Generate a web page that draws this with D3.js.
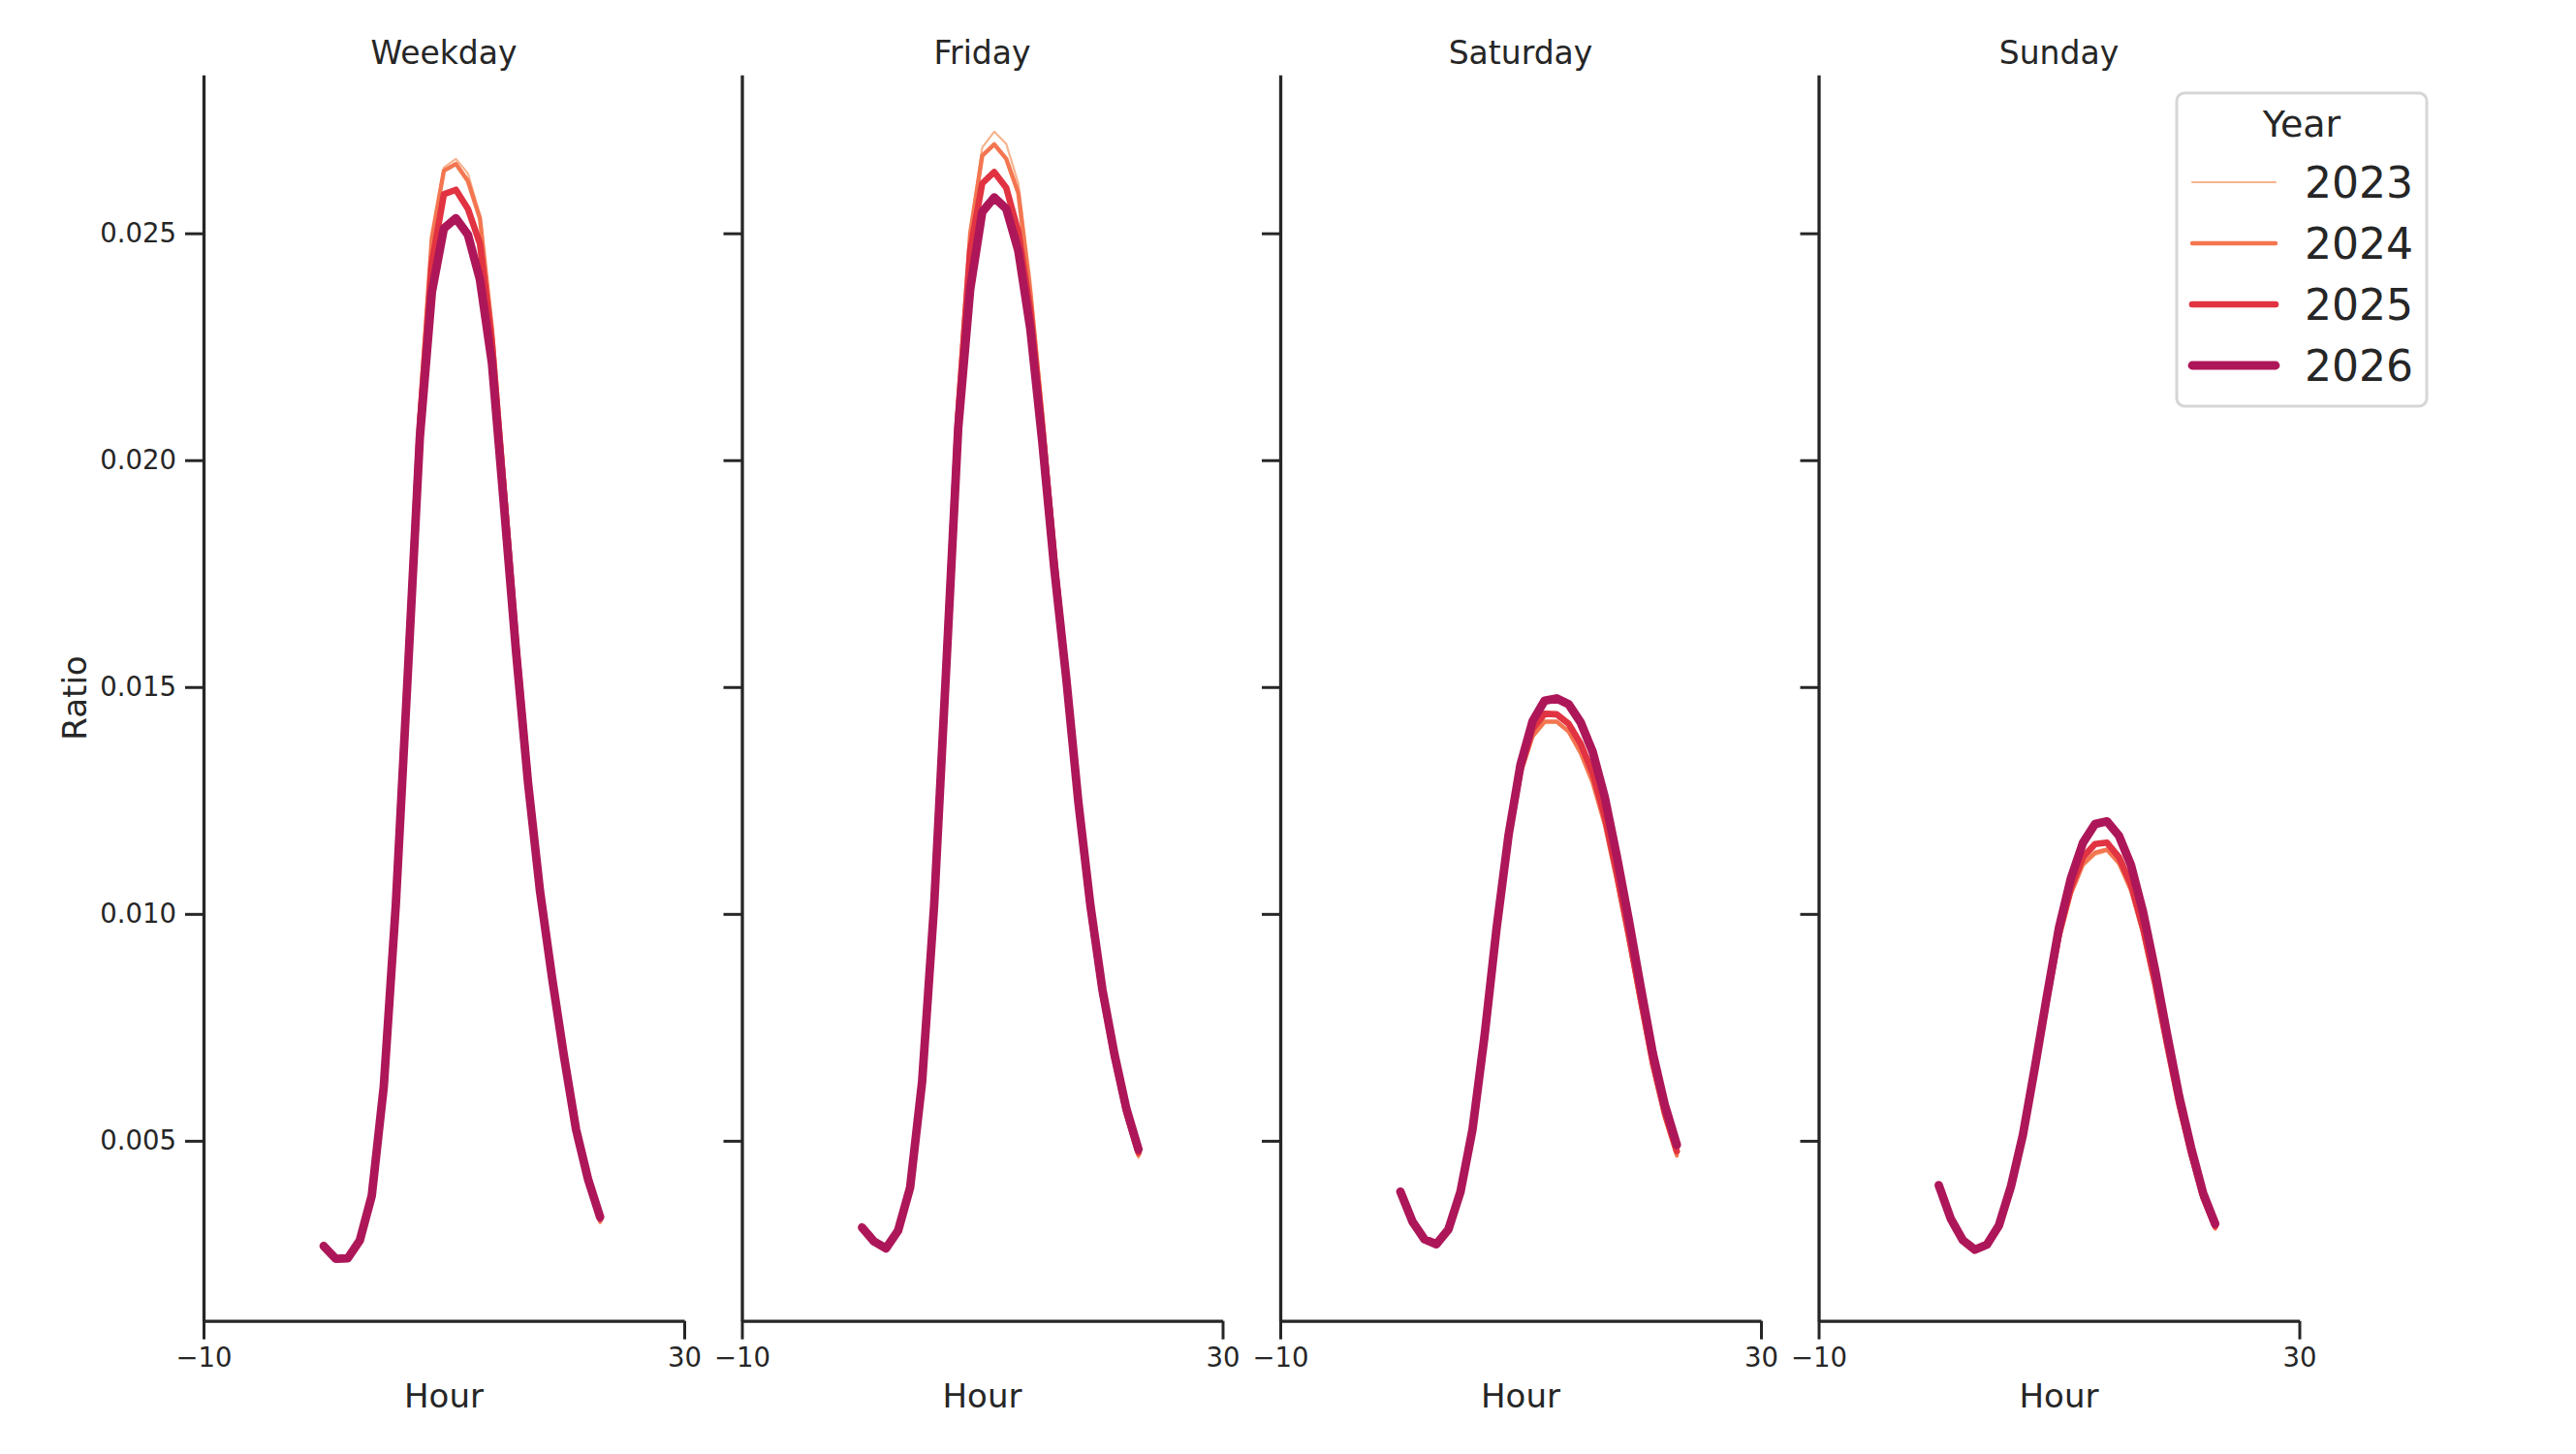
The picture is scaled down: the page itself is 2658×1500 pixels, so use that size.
<!DOCTYPE html>
<html>
<head>
<meta charset="utf-8">
<script src="https://cdn.jsdelivr.net/npm/d3@7"></script>
<style>
  body { margin: 0; background: #fff; }
  text { font-family: "DejaVu Sans", sans-serif; fill: #262626; }
</style>
</head>
<body>
<div id="chart"></div>
<script>
// Hourly share of daily traffic, by day type and year
const hours = d3.range(0, 24);
const years = [2023, 2024, 2025, 2026];
const dayTypes = ["Weekday", "Friday", "Saturday", "Sunday"];

const weekday2023 = [0.00264, 0.00238, 0.00239, 0.00277, 0.00376, 0.00625, 0.01045, 0.01580, 0.02120, 0.02495, 0.02645, 0.02664, 0.02632, 0.02540, 0.02300, 0.01970, 0.01630, 0.01315, 0.01060, 0.00858, 0.00678, 0.00515, 0.00405, 0.00318];
const weekday2024 = [0.00265, 0.00238, 0.00240, 0.00278, 0.00377, 0.00624, 0.01040, 0.01570, 0.02110, 0.02490, 0.02638, 0.02653, 0.02615, 0.02533, 0.02290, 0.01960, 0.01620, 0.01310, 0.01060, 0.00860, 0.00680, 0.00518, 0.00408, 0.00322];
const weekday2025 = [0.00266, 0.00239, 0.00240, 0.00279, 0.00378, 0.00622, 0.01030, 0.01550, 0.02080, 0.02434, 0.02586, 0.02596, 0.02554, 0.02477, 0.02260, 0.01930, 0.01600, 0.01300, 0.01055, 0.00860, 0.00683, 0.00522, 0.00412, 0.00328];
const weekday2026 = [0.00268, 0.00240, 0.00241, 0.00280, 0.00379, 0.00620, 0.01020, 0.01530, 0.02050, 0.02370, 0.02511, 0.02533, 0.02497, 0.02398, 0.02214, 0.01900, 0.01580, 0.01290, 0.01050, 0.00860, 0.00685, 0.00525, 0.00415, 0.00332];

const friday2023 = [0.00305, 0.00275, 0.00261, 0.00300, 0.00394, 0.00636, 0.01045, 0.01590, 0.02140, 0.02504, 0.02689, 0.02724, 0.02697, 0.02610, 0.02400, 0.02120, 0.01810, 0.01525, 0.01230, 0.01000, 0.00815, 0.00672, 0.00552, 0.00462];
const friday2024 = [0.00306, 0.00276, 0.00262, 0.00300, 0.00395, 0.00635, 0.01040, 0.01580, 0.02130, 0.02500, 0.02671, 0.02696, 0.02664, 0.02589, 0.02370, 0.02100, 0.01800, 0.01525, 0.01235, 0.01005, 0.00820, 0.00678, 0.00557, 0.00468];
const friday2025 = [0.00307, 0.00277, 0.00262, 0.00301, 0.00396, 0.00633, 0.01030, 0.01560, 0.02100, 0.02462, 0.02610, 0.02635, 0.02600, 0.02504, 0.02330, 0.02070, 0.01780, 0.01520, 0.01240, 0.01010, 0.00825, 0.00683, 0.00562, 0.00474];
const friday2026 = [0.00309, 0.00278, 0.00263, 0.00302, 0.00397, 0.00631, 0.01020, 0.01540, 0.02070, 0.02377, 0.02547, 0.02579, 0.02554, 0.02462, 0.02290, 0.02040, 0.01760, 0.01517, 0.01246, 0.01019, 0.00833, 0.00691, 0.00570, 0.00481];

const saturday2023 = [0.00385, 0.00320, 0.00281, 0.00270, 0.00303, 0.00385, 0.00522, 0.00727, 0.00960, 0.01162, 0.01305, 0.01388, 0.01420, 0.01421, 0.01400, 0.01352, 0.01285, 0.01192, 0.01070, 0.00938, 0.00796, 0.00658, 0.00548, 0.00464];
const saturday2024 = [0.00386, 0.00321, 0.00282, 0.00271, 0.00304, 0.00386, 0.00523, 0.00728, 0.00962, 0.01165, 0.01310, 0.01392, 0.01424, 0.01424, 0.01402, 0.01355, 0.01290, 0.01198, 0.01075, 0.00942, 0.00800, 0.00662, 0.00552, 0.00468];
const saturday2025 = [0.00387, 0.00321, 0.00282, 0.00271, 0.00304, 0.00387, 0.00524, 0.00730, 0.00965, 0.01170, 0.01320, 0.01408, 0.01441, 0.01440, 0.01419, 0.01375, 0.01310, 0.01215, 0.01090, 0.00955, 0.00812, 0.00673, 0.00562, 0.00477];
const saturday2026 = [0.00388, 0.00322, 0.00283, 0.00272, 0.00305, 0.00388, 0.00525, 0.00731, 0.00968, 0.01174, 0.01330, 0.01425, 0.01470, 0.01475, 0.01462, 0.01422, 0.01357, 0.01258, 0.01128, 0.00987, 0.00838, 0.00693, 0.00579, 0.00491];

const sunday2023 = [0.00400, 0.00326, 0.00279, 0.00258, 0.00269, 0.00311, 0.00396, 0.00508, 0.00653, 0.00802, 0.00940, 0.01040, 0.01105, 0.01130, 0.01138, 0.01108, 0.01048, 0.00955, 0.00835, 0.00700, 0.00572, 0.00463, 0.00368, 0.00304];
const sunday2024 = [0.00400, 0.00327, 0.00280, 0.00259, 0.00270, 0.00311, 0.00397, 0.00509, 0.00655, 0.00806, 0.00945, 0.01045, 0.01110, 0.01135, 0.01142, 0.01112, 0.01052, 0.00958, 0.00838, 0.00704, 0.00575, 0.00466, 0.00371, 0.00307];
const sunday2025 = [0.00401, 0.00327, 0.00280, 0.00259, 0.00270, 0.00312, 0.00398, 0.00511, 0.00658, 0.00812, 0.00955, 0.01058, 0.01125, 0.01154, 0.01157, 0.01125, 0.01065, 0.00968, 0.00848, 0.00712, 0.00582, 0.00472, 0.00376, 0.00312];
const sunday2026 = [0.00402, 0.00328, 0.00281, 0.00260, 0.00271, 0.00313, 0.00399, 0.00513, 0.00662, 0.00819, 0.00969, 0.01079, 0.01157, 0.01198, 0.01204, 0.01172, 0.01107, 0.01004, 0.00876, 0.00734, 0.00598, 0.00484, 0.00384, 0.00317];

const xTicks = [-10, 30];
const yTicks = [0.005, 0.010, 0.015, 0.020, 0.025];

const series = {
    Weekday: [weekday2023, weekday2024, weekday2025, weekday2026],
    Friday: [friday2023, friday2024, friday2025, friday2026],
    Saturday: [saturday2023, saturday2024, saturday2025, saturday2026],
    Sunday: [sunday2023, sunday2024, sunday2025, sunday2026]
};

const colors = ["#f6b48f", "#f37651", "#e13342", "#ad1759"];
const widths = [2.2, 4.4, 6.6, 8.8];
const ink = "#262626";

const width = 2658;
const height = 1500;

const svg = d3.select("#chart")
    .append("svg")
    .attr("width", width)
    .attr("height", height);

// shared y scale
const yScale = d3.scaleLinear()
    .domain([0.00103, 0.02849])
    .range([1362.7, 77.3]);

const panelLeft = 210;
const panelStep = 555.5;
const panelWidth = 496;

dayTypes.forEach((day, i) => {
    const x0 = panelLeft + i * panelStep;
    const xScale = d3.scaleLinear()
        .domain([-10, 30])
        .range([x0, x0 + panelWidth]);

    const g = svg.append("g");

    // y axis
    const yAxis = d3.axisLeft(yScale)
        .tickValues(yTicks)
        .tickSize(19)
        .tickSizeOuter(0)
        .tickPadding(9)
        .tickFormat(i === 0 ? d3.format(".3f") : "");

    g.append("g")
        .attr("transform", `translate(${x0},0)`)
        .call(yAxis);

    // x axis
    const xAxis = d3.axisBottom(xScale)
        .tickValues(xTicks)
        .tickSize(19)
        .tickSizeOuter(0)
        .tickPadding(9)
        .tickFormat(d3.format("d"));

    g.append("g")
        .attr("transform", `translate(0,${yScale.range()[0]})`)
        .call(xAxis);

    g.selectAll(".domain").attr("stroke", ink).attr("stroke-width", 3.3);
    g.selectAll(".tick line").attr("stroke", ink).attr("stroke-width", 3);
    g.selectAll(".tick text")
        .style("font-size", "27.5px")
        .attr("fill", ink);

    // lines, light years first
    const line = d3.line()
        .x((d, k) => xScale(hours[k]))
        .y(d => yScale(d));

    series[day].forEach((vals, k) => {
        g.append("path")
            .datum(vals)
            .attr("d", line)
            .attr("fill", "none")
            .attr("stroke", colors[k])
            .attr("stroke-width", widths[k])
            .attr("stroke-linejoin", "round")
            .attr("stroke-linecap", "round");
    });

    // panel title
    g.append("text")
        .attr("x", x0 + panelWidth / 2)
        .attr("y", 66)
        .attr("text-anchor", "middle")
        .style("font-size", "33px")
        .text(day);

    // x label
    g.append("text")
        .attr("x", x0 + panelWidth / 2)
        .attr("y", 1452)
        .attr("text-anchor", "middle")
        .style("font-size", "34px")
        .text("Hour");
});

// y label
svg.append("text")
    .attr("transform", "translate(89,720) rotate(-90)")
    .attr("text-anchor", "middle")
    .style("font-size", "34px")
    .text("Ratio");

// legend
const legend = svg.append("g");
legend.append("rect")
    .attr("x", 2246)
    .attr("y", 96)
    .attr("width", 258)
    .attr("height", 323)
    .attr("rx", 8)
    .attr("fill", "#fff")
    .attr("stroke", "#d6d6d6")
    .attr("stroke-width", 3);

legend.append("text")
    .attr("x", 2375)
    .attr("y", 141)
    .attr("text-anchor", "middle")
    .style("font-size", "38px")
    .text("Year");

years.forEach((yr, k) => {
    const ly = 188 + k * 63;
    legend.append("line")
        .attr("x1", 2262)
        .attr("x2", 2348)
        .attr("y1", ly)
        .attr("y2", ly)
        .attr("stroke", colors[k])
        .attr("stroke-width", widths[k])
        .attr("stroke-linecap", "round");
    legend.append("text")
        .attr("x", 2378)
        .attr("y", ly + 16)
        .style("font-size", "44px")
        .text(yr);
});
</script>
</body>
</html>
